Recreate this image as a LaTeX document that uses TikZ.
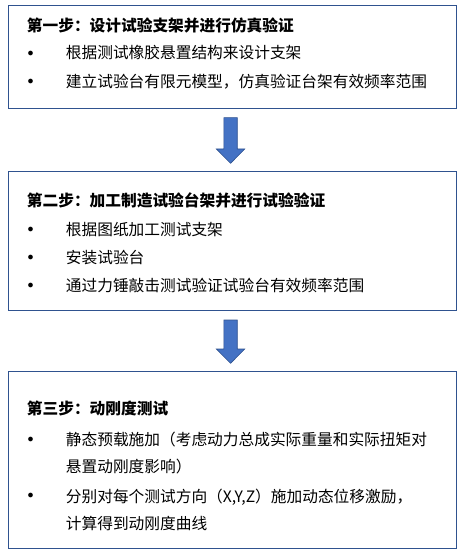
\documentclass[tikz,border=0pt]{standalone}
\usepackage{fontspec}
\setmainfont{Noto Sans CJK SC}
\usetikzlibrary{positioning, calc}
\definecolor{boxblue}{HTML}{2F528F}
\definecolor{arrowblue}{HTML}{4472C4}

\begin{document}
\begin{tikzpicture}[x=1pt, y=-1pt,
    stepbox/.style={shape=rectangle, draw=boxblue, line width=1pt, anchor=north west, minimum width=448.5pt, inner sep=0pt},
    steptitle/.style={anchor=west, inner sep=0pt, font=\bfseries\fontsize{15.7}{27}\selectfont},
    item/.style={anchor=west, inner sep=0pt, align=left, font=\fontsize{15.7}{27}\selectfont},
    dot/.style={inner sep=0pt, font=\fontsize{12}{14}\selectfont},
    blockarrow/.style={fill=arrowblue, draw=boxblue, line width=0.6pt}]
    \useasboundingbox (0,0) rectangle (463,556);
    % boxes
    \node[stepbox, minimum height=103.3pt] (box1) at (7.5,4.7) {};
    \node[stepbox, minimum height=139.3pt] (box2) at (7.5,171) {};
    \node[stepbox, minimum height=177.3pt] (box3) at (7.5,371) {};
    % step 1
    \node[steptitle] (t1) at (26.7,25.7) {第一步：设计试验支架并进行仿真验证};
    \node[item] (s1a) at (65.7,53) {根据测试橡胶悬置结构来设计支架};
    \node[item] (s1b) at (65.7,82) {建立试验台有限元模型，仿真验证台架有效频率范围};
    % step 2
    \node[steptitle] (t2) at (26.7,200) {第二步：加工制造试验台架并进行试验验证};
    \node[item] (s2a) at (65.7,230) {根据图纸加工测试支架};
    \node[item] (s2b) at (65.7,258) {安装试验台};
    \node[item] (s2c) at (65.7,286) {通过力锤敲击测试验证试验台有效频率范围};
    % step 3
    \node[steptitle] (t3) at (26.7,408) {第三步：动刚度测试};
    \node[item] (s3a) at (65.7,453.5) {静态预载施加（考虑动力总成实际重量和实际扭矩对\\悬置动刚度影响）};
    \node[item] (s3b) at (65.7,509.5) {分别对每个测试方向（X,Y,Z）施加动态位移激励，\\计算得到动刚度曲线};
    % bullets
    \foreach \name/\y in {b1a/54, b1b/82.3, b2a/230, b2b/258, b2c/286, b3a/440, b3b/496}
        \node[dot] (\name) at (30.7,\y) {$\bullet$};
    % arrows between the boxes
    \foreach \a/\b in {box1/box2, box2/box3}
        \draw[blockarrow] let \p1=([xshift=-1.7pt]\a.south), \p2=(\b.north) in
            (\x1-6.7pt,\y1-8.7pt) -- (\x1+6.7pt,\y1-8.7pt) -- (\x1+6.7pt,\y2+22pt)
            -- (\x1+14.2pt,\y2+22pt) -- (\x1,\y2+7.7pt) -- (\x1-14.2pt,\y2+22pt)
            -- (\x1-6.7pt,\y2+22pt) -- cycle;
\end{tikzpicture}
\end{document}
